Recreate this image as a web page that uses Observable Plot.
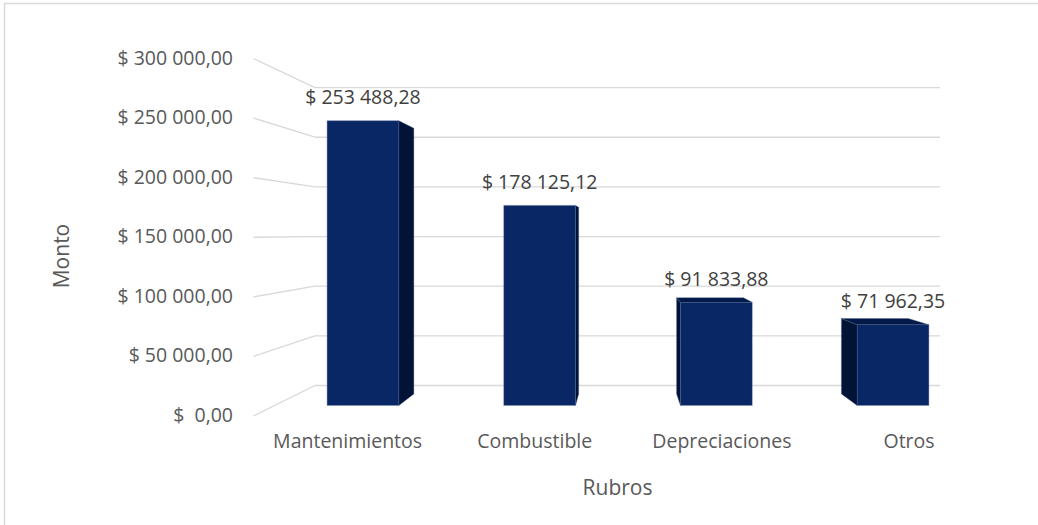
<!DOCTYPE html>
<html>
<head>
<meta charset="utf-8">
<script src="https://cdn.jsdelivr.net/npm/d3@7"></script>
<script src="https://cdn.jsdelivr.net/npm/@observablehq/plot@0.6"></script>
<style>
  html, body { margin: 0; padding: 0; background: #fff; }
  #chart { width: 1038px; height: 525px; }
</style>
</head>
<body>
<div id="chart"></div>
<script>
// ---- data ----
const categories = ["Mantenimientos", "Combustible", "Depreciaciones", "Otros"];
const values = [253488.28, 178125.12, 91833.88, 71962.35];
const yTicks = [0, 50000, 100000, 150000, 200000, 250000, 300000];
const xTitle = "Rubros";
const yTitle = "Monto";

// ---- number formatting (es style: space thousands, comma decimal) ----
const loc = d3.formatLocale({decimal: ",", thousands: "\u00a0", grouping: [3], currency: ["$ ", ""]});
const fmt = loc.format(",.2f");
const money = v => v === 0 ? "$\u00a0\u00a00,00" : "$ " + fmt(v);

// ---- simple perspective model in data units ----
const XV = 1.469, YV = 153500;          // vanishing point (category index, value)
const F_FRONT = 1.0594, F_BACK = 0.884, F_BAR_BACK = 0.933;
const HW = 0.203;                        // bar half width (category units)
const proj = (X, V, f) => [XV + (X - XV) * f, YV + (V - YV) * f];
const X0 = -0.5, X1 = categories.length - 0.5;

// gridlines: left wall + back wall
const grid = [];
yTicks.forEach(t => {
  [[X0, F_FRONT], [X0, F_BACK], [X1, F_BACK]].forEach(([X, f]) => {
    const [x, y] = proj(X, t, f);
    grid.push({t, x, y});
  });
});

// bar faces
const faces = [];
categories.forEach((c, i) => {
  const v = values[i];
  const xl = i - HW, xr = i + HW;
  const poly = (id, kind, pts) => pts.forEach(([X, V, f]) => {
    const [x, y] = proj(X, V, f);
    faces.push({id, kind, x, y});
  });
  if (xr < XV) poly(c + "-s", "side", [[xr, 0, 1], [xr, 0, F_BAR_BACK], [xr, v, F_BAR_BACK], [xr, v, 1]]);
  if (xl > XV) poly(c + "-s", "side", [[xl, 0, 1], [xl, 0, F_BAR_BACK], [xl, v, F_BAR_BACK], [xl, v, 1]]);
  if (v < YV) poly(c + "-t", "top", [[xl, v, 1], [xl, v, F_BAR_BACK], [xr, v, F_BAR_BACK], [xr, v, 1]]);
  poly(c + "-f", "front", [[xl, 0, 1], [xl, v, 1], [xr, v, 1], [xr, 0, 1]]);
});

const faceColor = {front: "#0a2765", side: "#021338", top: "#031a48"};

const tickLabels = yTicks.map(t => { const [x, y] = proj(X0, t, F_FRONT); return {x, y, label: money(t)}; });
const catLabels = categories.map((c, i) => { const [x, y] = proj(i, 0, F_FRONT); return {x, y, label: c}; });
const valLabels = values.map((v, i) => { const [x, y] = proj(i, v, 1); return {x, y, label: money(v)}; });

const font = "'Open Sans', Lato, sans-serif";

const chart = Plot.plot({
  width: 1038,
  height: 525,
  margin: 0,
  style: {fontFamily: font, background: "#fff"},
  x: {type: "linear", domain: [0, 3], range: [362.5, 892.5], axis: null},
  y: {type: "linear", domain: [0, 300000], range: [405, 68], axis: null},
  marks: [
    Plot.line(grid, {x: "x", y: "y", z: "t", stroke: "#d9d9d9", strokeWidth: 1.3}),
    Plot.line(faces, {x: "x", y: "y", z: "id", fill: d => faceColor[d.kind], stroke: "#4a5f8e", strokeWidth: 0.6, strokeOpacity: 0.6}),
    Plot.text(tickLabels, {x: "x", y: "y", text: "label", textAnchor: "end", dx: -21, fontSize: 19.5, fill: "#595959"}),
    Plot.text(catLabels, {x: "x", y: "y", text: "label", dy: 26, fontSize: 19.5, fill: "#595959"}),
    Plot.text(valLabels, {x: "x", y: "y", text: "label", dy: -23, fontSize: 19.5, fill: "#404040"}),
    Plot.text([yTitle], {frameAnchor: "left", textAnchor: "middle", dx: 62, dy: -7, rotate: -90, fontSize: 21, fill: "#595959"}),
    Plot.text([xTitle], {frameAnchor: "bottom", lineAnchor: "middle", dx: 98, dy: -37, fontSize: 21, fill: "#595959"})
  ]
});

const svg = d3.select(chart);
svg.append("rect").attr("x", 4.5).attr("y", 3.5).attr("width", 1040).attr("height", 530)
  .attr("fill", "none").attr("stroke", "#d9d9d9").attr("stroke-width", 1.5);

document.getElementById("chart").appendChild(chart);
</script>
</body>
</html>
